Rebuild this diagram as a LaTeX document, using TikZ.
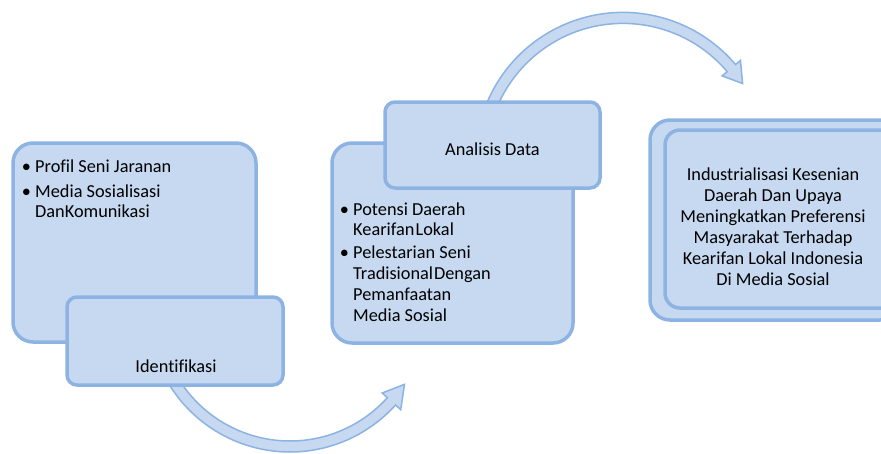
\documentclass[tikz,border=0pt]{standalone}
\usepackage{fontspec}
\setmainfont{Carlito}[Ligatures=CommonOff]
\usetikzlibrary{calc}
\definecolor{boxfill}{HTML}{C6D9F1}
\definecolor{boxline}{HTML}{8DB3E2}
\begin{document}
\begin{tikzpicture}[x=1pt,y=-1pt,
  bigbox/.style={draw=boxline, fill=boxfill, line width=3.5pt, rounded corners=20pt, rectangle, inner sep=0pt},
  smallbox/.style={draw=boxline, fill=boxfill, line width=3.5pt, rounded corners=10pt, rectangle, inner sep=0pt},
  bandarrow/.style={draw=boxline, fill=boxfill, line width=1.5pt, line join=miter},
  txt/.style={font=\fontsize{18.3}{20.5}\selectfont, inner sep=0pt, text=black},
  line/.style={txt, anchor=base west},
  bul/.style={txt, anchor=base},
  ctr/.style={txt, anchor=base}]
\useasboundingbox (0,0) rectangle (881,453);
\clip (0,0) rectangle (881,453);

% ---- left group ----
\node[bigbox, minimum width=243pt, minimum height=199pt] (box1) at (134.5,242.5) {};
\coordinate (c1) at (290,310);
\path[bandarrow] ($(c1)+(155:142)$) arc[start angle=155, end angle=42, radius=142]
  -- ($(c1)+(42:149)$) -- ($(c1)+(33:136.5)$) -- ($(c1)+(42:124)$)
  -- ($(c1)+(42:131)$) arc[start angle=42, end angle=155, radius=131] -- cycle;
\node[smallbox, minimum width=216pt, minimum height=88pt] (ident) at (175,341) {};
\node[ctr] (identt) at (176,372) {Identifikasi};
\node[bul] (b1a) at (26.5,172) {•};
\node[line] (t1a) at (35,172) {Profil Seni Jaranan};
\node[bul] (b1b) at (26.5,197) {•};
\node[line] (t1b) at (35,197) {Media Sosialisasi};
\node[line] (t1c) at (35,217) {DanKomunikasi};

% ---- middle group ----
\node[bigbox, minimum width=241pt, minimum height=200pt] (box2) at (452.5,243) {};
\coordinate (c2) at (623,160);
\path[bandarrow] ($(c2)+(200:147.6)$) arc[start angle=200, end angle=319.7, radius=147.6]
  -- ($(c2)+(319.7:154)$) -- ($(c2)+(327.4:142)$) -- ($(c2)+(319.7:130)$)
  -- ($(c2)+(319.7:136.6)$) arc[start angle=319.7, end angle=200, radius=136.6] -- cycle;
\node[smallbox, minimum width=215pt, minimum height=86pt] (anal) at (492.5,145) {};
\node[ctr] (analt) at (492.5,155) {Analisis Data};
\node[bul] (b2a) at (344.5,215) {•};
\node[line] (t2a) at (353,215) {Potensi Daerah};
\node[line] (t2b) at (353,235) {Kearifan\hspace{1.2pt}Lokal};
\node[bul] (b2b) at (344.5,258) {•};
\node[line] (t2c) at (353,258) {Pelestarian Seni};
\node[line] (t2d) at (353,279) {Tradisional\hspace{1pt}Dengan};
\node[line] (t2e) at (353,300) {Pemanfaatan};
\node[line] (t2f) at (353,321.5) {Media Sosial};

% ---- right group ----
\node[bigbox, minimum width=250pt, minimum height=200pt] (box3) at (775,220) {};
\node[bigbox, rounded corners=15pt, minimum width=240pt, minimum height=178pt] (box3i) at (785,219) {};
\node[ctr] (t3a) at (773,180) {Industrialisasi Kesenian};
\node[ctr] (t3b) at (773,201) {Daerah Dan Upaya};
\node[ctr] (t3c) at (773,222) {Meningkatkan Preferensi};
\node[ctr] (t3d) at (773,243) {Masyarakat Terhadap};
\node[ctr] (t3e) at (773,264) {Kearifan Lokal Indonesia};
\node[ctr] (t3f) at (773,285) {Di Media Sosial};
\end{tikzpicture}
\end{document}
